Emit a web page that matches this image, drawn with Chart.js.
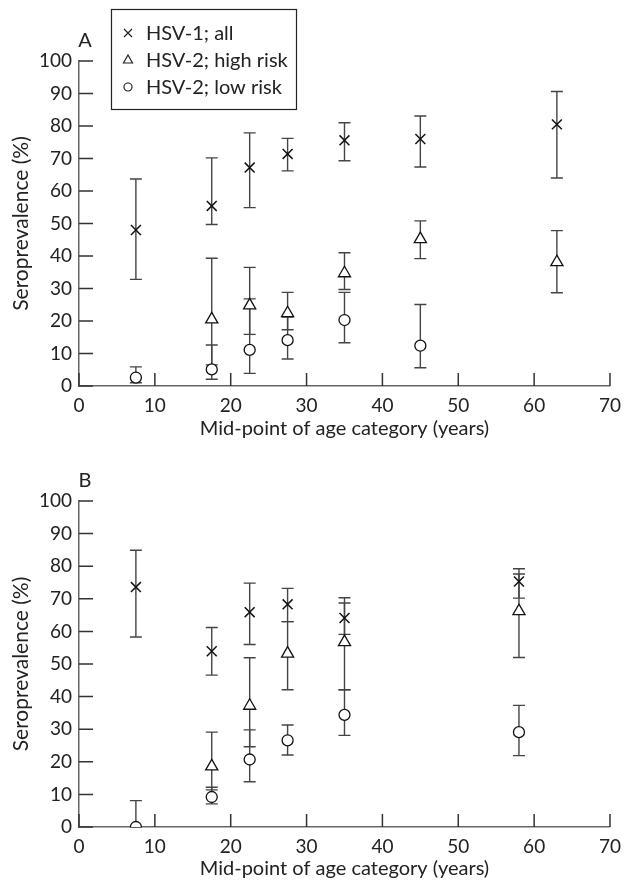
<!DOCTYPE html>
<html>
<head>
<meta charset="utf-8">
<script src="https://cdn.jsdelivr.net/npm/chart.js@4/dist/chart.umd.min.js"></script>
<style>
  body { margin: 0; background: #fff; }
  .panel { position: absolute; left: 0; width: 629px; }
</style>
</head>
<body>
<div class="panel" style="top:0;height:441px"><canvas id="chartA" width="629" height="441"></canvas></div>
<div class="panel" style="top:441px;height:442px"><canvas id="chartB" width="629" height="442"></canvas></div>
<script>
// Panel A
const hsv1AgeA = [7.5, 17.5, 22.5, 27.5, 35, 45, 63];
const hsv1A    = [48, 55.4, 67.2, 71.4, 75.6, 76, 80.5];
const hsv1ALo  = [32.8, 49.7, 54.9, 66.2, 69.3, 67.4, 64];
const hsv1AHi  = [63.7, 70.2, 77.9, 76.2, 81, 83.1, 90.6];

const highAgeA = [17.5, 22.5, 27.5, 35, 45, 63];
const highA    = [20.5, 24.8, 22.4, 34.7, 45.2, 38.1];
const highALo  = [6.5, 15.9, 17.3, 29.7, 39.2, 28.7];
const highAHi  = [39.3, 36.5, 28.8, 41, 50.8, 47.8];

const lowAgeA = [7.5, 17.5, 22.5, 27.5, 35, 45];
const lowA    = [2.6, 5.1, 11.1, 14.1, 20.3, 12.4];
const lowALo  = [1.0, 2.1, 3.9, 8.3, 13.3, 5.6];
const lowAHi  = [5.9, 12.6, 26.8, 21.2, 28.8, 25.1];

// Panel B
const hsv1AgeB = [7.5, 17.5, 22.5, 27.5, 35, 58];
const hsv1B    = [73.6, 53.9, 65.9, 68.3, 64.1, 75.3];
const hsv1BLo  = [58.3, 46.6, 56.0, 63.0, 59.1, 70.2];
const hsv1BHi  = [84.9, 61.2, 74.8, 73.2, 70.3, 79.2];

const highAgeB = [17.5, 22.5, 27.5, 35, 58];
const highB    = [18.6, 37.2, 53.2, 56.7, 66.2];
const highBLo  = [11.4, 24.6, 42.1, 42.1, 52.0];
const highBHi  = [29.1, 51.9, 63.0, 68.7, 77.6];

const lowAgeB = [7.5, 17.5, 22.5, 27.5, 35, 58];
const lowB    = [0, 9.2, 20.7, 26.6, 34.4, 29.1];
const lowBLo  = [0, 7.1, 13.9, 22.1, 28.1, 21.9];
const lowBHi  = [8.1, 12.2, 29.8, 31.3, 42.1, 37.3];

const seriesLabels = ['HSV-1; all', 'HSV-2; high risk', 'HSV-2; low risk'];
const xTitle = 'Mid-point of age category (years)';
const yTitle = 'Seroprevalence (%)';

const FONT = 'Lato, "DejaVu Sans", sans-serif';
const INK = '#222';

function points(ages, vals, lo, hi) {
    return ages.map((a, i) => ({ x: a, y: vals[i], lo: lo[i], hi: hi[i] }));
}

// error bars with caps, drawn under the markers
const errorBars = {
    id: 'errorBars',
    beforeDatasetsDraw(chart) {
        const { ctx, scales: { x, y } } = chart;
        ctx.save();
        ctx.strokeStyle = '#444';
        ctx.lineWidth = 1.4;
        chart.data.datasets.forEach(ds => {
            ds.data.forEach(p => {
                const px = x.getPixelForValue(p.x);
                const top = y.getPixelForValue(p.hi);
                const bot = y.getPixelForValue(p.lo);
                ctx.beginPath();
                ctx.moveTo(px, top); ctx.lineTo(px, bot);
                ctx.moveTo(px - 6, top); ctx.lineTo(px + 6, top);
                ctx.moveTo(px - 6, bot); ctx.lineTo(px + 6, bot);
                ctx.stroke();
            });
        });
        ctx.restore();
    }
};

// tick marks pointing into the plot
const inwardTicks = {
    id: 'inwardTicks',
    beforeDatasetsDraw(chart) {
        const { ctx, chartArea: a, scales: { x, y } } = chart;
        ctx.save();
        ctx.strokeStyle = '#333';
        ctx.lineWidth = 1.5;
        ctx.beginPath();
        y.ticks.forEach(t => {
            const py = y.getPixelForValue(t.value);
            ctx.moveTo(a.left, py); ctx.lineTo(a.left + 14, py);
        });
        x.ticks.forEach(t => {
            const px = x.getPixelForValue(t.value);
            ctx.moveTo(px, a.bottom); ctx.lineTo(px, a.bottom - 13);
        });
        ctx.stroke();
        ctx.restore();
    }
};

function legendMarker(ctx, style, cx, cy) {
    ctx.beginPath();
    if (style === 'crossRot') {
        ctx.moveTo(cx - 4, cy - 4); ctx.lineTo(cx + 4, cy + 4);
        ctx.moveTo(cx + 4, cy - 4); ctx.lineTo(cx - 4, cy + 4);
    } else if (style === 'triangle') {
        ctx.moveTo(cx, cy - 5); ctx.lineTo(cx + 4.5, cy + 3); ctx.lineTo(cx - 4.5, cy + 3); ctx.closePath();
    } else {
        ctx.arc(cx, cy, 4, 0, Math.PI * 2);
    }
    ctx.stroke();
}

// panel letter and the boxed legend
const panelDeco = {
    id: 'panelDeco',
    afterDraw(chart, args, opts) {
        const { ctx } = chart;
        ctx.save();
        ctx.fillStyle = INK;
        ctx.font = '20px ' + FONT;
        ctx.textAlign = 'center';
        ctx.textBaseline = 'middle';
        ctx.fillText(opts.letter, 85, opts.letterY);
        if (opts.legend) {
            ctx.strokeStyle = INK;
            ctx.lineWidth = 1.2;
            ctx.strokeRect(111.5, 9.5, 185, 100);
            ctx.font = '20px ' + FONT;
            ctx.textAlign = 'left';
            const rowsY = [33, 60, 87];
            chart.data.datasets.forEach((ds, i) => {
                ctx.lineWidth = 1.2;
                legendMarker(ctx, ds.pointStyle, 128, rowsY[i]);
                ctx.fillText(ds.label, 146, rowsY[i] + 1);
            });
        }
        ctx.restore();
    }
};

function makeChart(id, sets, letter, opts) {
    const ctx = document.getElementById(id).getContext('2d');
    return new Chart(ctx, {
        type: 'scatter',
        data: {
            datasets: [
                { label: seriesLabels[0], data: sets[0], pointStyle: 'crossRot', pointRadius: 7,
                  borderColor: '#111', backgroundColor: '#111', pointBorderWidth: 1.5 },
                { label: seriesLabels[1], data: sets[1], pointStyle: 'triangle', pointRadius: 7,
                  borderColor: '#111', backgroundColor: '#fff', pointBorderWidth: 1.3 },
                { label: seriesLabels[2], data: sets[2], pointStyle: 'circle', pointRadius: 5.5,
                  borderColor: '#111', backgroundColor: '#fff', pointBorderWidth: 1.3 }
            ]
        },
        options: {
            responsive: false,
            animation: false,
            events: [],
            layout: { padding: { top: opts.top, right: 18, left: 0, bottom: 0 } },
            plugins: {
                legend: { display: false },
                tooltip: { enabled: false },
                panelDeco: { letter: letter, letterY: opts.letterY, legend: opts.legend }
            },
            scales: {
                x: {
                    type: 'linear', min: 0, max: 70,
                    afterFit: s => { s.height = opts.xHeight; },
                    grid: { display: false, drawTicks: false },
                    border: { display: true, color: '#666', width: 1.5 },
                    ticks: { stepSize: 10, padding: 8, color: INK, font: { family: FONT, size: 19 } },
                    title: { display: true, text: xTitle, color: INK, padding: { top: 0, bottom: opts.xTitlePad },
                             font: { family: FONT, size: 20, lineHeight: 1.2 } }
                },
                y: {
                    min: 0, max: 100,
                    afterFit: s => { s.width = 79; },
                    grid: { display: false, drawTicks: false },
                    border: { display: true, color: '#666', width: 1.5 },
                    ticks: { stepSize: 10, padding: 7, color: INK, font: { family: FONT, size: 19 } },
                    title: { display: true, text: yTitle, color: INK, padding: { top: 9, bottom: 0 },
                             font: { family: FONT, size: 21, lineHeight: 1.2 } }
                }
            }
        },
        plugins: [inwardTicks, errorBars, panelDeco]
    });
}

makeChart('chartA', [
    points(hsv1AgeA, hsv1A, hsv1ALo, hsv1AHi),
    points(highAgeA, highA, highALo, highAHi),
    points(lowAgeA, lowA, lowALo, lowAHi)
], 'A', { top: 61, xHeight: 55, xTitlePad: 0, letterY: 41, legend: true });

makeChart('chartB', [
    points(hsv1AgeB, hsv1B, hsv1BLo, hsv1BHi),
    points(highAgeB, highB, highBLo, highBHi),
    points(lowAgeB, lowB, lowBLo, lowBHi)
], 'B', { top: 60, xHeight: 56, xTitlePad: 2, letterY: 40, legend: false });
</script>
</body>
</html>
